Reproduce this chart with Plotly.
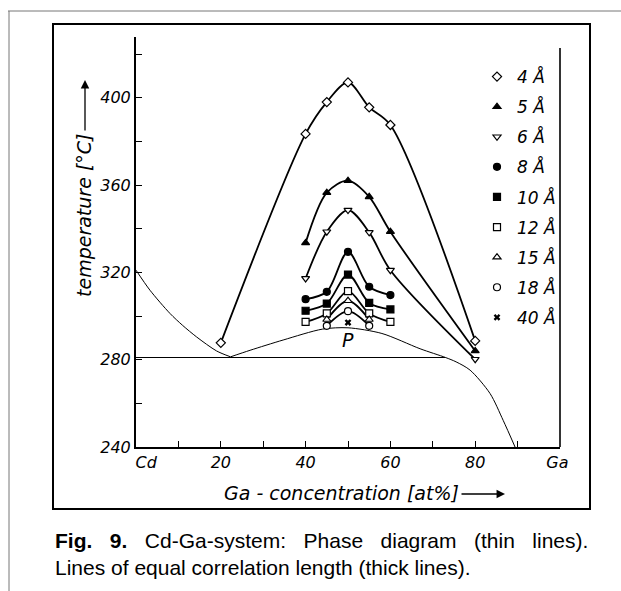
import plotly.graph_objects as go

# ---------------- data ----------------
# correlation-length series: Ga concentration [at%] and temperature [°C]
x_4A = [20, 40, 45, 50, 55, 60, 80]
t_4A = [287.7, 383.4, 398.0, 407.0, 395.6, 387.5, 288.6]
x_5A = [40, 45, 50, 55, 60, 80]
t_5A = [333.5, 356.5, 362.0, 354.6, 338.6, 284.0]
x_6A = [40, 45, 50, 55, 60, 80]
t_6A = [317.2, 338.6, 348.5, 338.3, 321.0, 280.2]
x_8A = [40, 45, 50, 55, 60]
t_8A = [307.7, 311.1, 329.4, 313.4, 309.6]
x_10A = [40, 45, 50, 55, 60]
t_10A = [302.4, 305.7, 319.0, 306.0, 303.0]
x_12A = [40, 45, 50, 55, 60]
t_12A = [297.3, 301.2, 311.4, 301.2, 297.3]
x_15A = [45, 50, 55]
t_15A = [298.4, 307.0, 298.4]
x_18A = [45, 50, 55]
t_18A = [295.5, 302.2, 295.5]
x_40A = [50]
t_40A = [297.0]

# phase diagram (thin lines)
liq_left_x = [0, 3.3, 8, 11, 14.3, 19, 22.3]
liq_left_t = [321, 311.8, 301.2, 295.7, 290.4, 284.0, 281.3]
dome_x = [22.3, 26.9, 34.7, 44, 50, 58, 67, 73, 75.5, 78.8, 83.5, 86.6, 89.4]
dome_t = [281.3, 284.3, 289.0, 294.0, 294.6, 292.0, 285.0, 281.0, 279.0, 275.2, 264.5, 252.2, 240.0]
mono_x = [0, 73]
mono_t = [281.0, 281.0]

x_tickvals = [0, 20, 40, 60, 80, 100]
x_ticktext = ["\u00a0\u00a0\u00a0\u00a0Cd", "20", "40", "60", "80", "Ga\u00a0"]
x_minor = [10, 30, 50, 70, 90]
y_tickvals = [240, 280, 320, 360, 400]
y_minor = [260, 300, 340, 380, 420]

# ---------------- layout helpers ----------------
W_PX, H_PX = 621, 591
L, R, T, B = 136, 560, 37, 447


def fx(px):
    return (px - L) / (R - L)


def fy(py):
    return (B - py) / (B - T)


FONT = "DejaVu Sans"
ital = dict(family=FONT, color="black", style="italic")

series = [
    ("4 Å", x_4A, t_4A, "diamond", "white"),
    ("5 Å", x_5A, t_5A, "triangle-up", "black"),
    ("6 Å", x_6A, t_6A, "triangle-down", "white"),
    ("8 Å", x_8A, t_8A, "circle", "black"),
    ("10 Å", x_10A, t_10A, "square", "black"),
    ("12 Å", x_12A, t_12A, "square", "white"),
    ("15 Å", x_15A, t_15A, "triangle-up", "white"),
    ("18 Å", x_18A, t_18A, "circle", "white"),
    ("40 Å", x_40A, t_40A, "x", "black"),
]

fig = go.Figure()

# thin phase-diagram lines
for xs, ts in [(liq_left_x, liq_left_t), (dome_x, dome_t)]:
    fig.add_trace(go.Scatter(x=xs, y=ts, mode="lines", showlegend=False,
                             line=dict(color="black", width=1, shape="spline", smoothing=0.8),
                             hoverinfo="skip"))
fig.add_trace(go.Scatter(x=mono_x, y=mono_t, mode="lines", showlegend=False,
                         line=dict(color="black", width=1.2), hoverinfo="skip"))

# thick lines
for name, xs, ts, sym, col in series:
    if len(xs) > 1:
        fig.add_trace(go.Scatter(x=xs, y=ts, mode="lines", showlegend=False,
                                 line=dict(color="black", width=1.8, shape="spline", smoothing=0.9),
                                 hoverinfo="skip"))

# markers (with legend)
for i, (name, xs, ts, sym, col) in enumerate(series):
    mk = dict(symbol=sym, size=7, color=col, line=dict(color="black", width=1.2))
    if sym == "x":
        mk = dict(symbol="x", size=6, color="black", line=dict(width=0))
    fig.add_trace(go.Scatter(x=xs, y=ts, mode="markers", name=name, marker=mk,
                             legendgroup=f"g{i}"))

shapes = [
    dict(type="line", xref="paper", yref="paper", x0=fx(8), x1=fx(621), y0=fy(11), y1=fy(11),
         line=dict(color="#777777", width=1)),
    dict(type="line", xref="paper", yref="paper", x0=fx(9), x1=fx(9), y0=fy(11), y1=fy(591),
         line=dict(color="#777777", width=1)),
    dict(type="rect", xref="paper", yref="paper", x0=fx(53), x1=fx(590), y0=fy(24), y1=fy(509),
         line=dict(color="black", width=2)),
    dict(type="line", xref="paper", yref="paper", x0=1, x1=1, y0=0, y1=fy(48),
         line=dict(color="black", width=1.6)),
]

NB = "\u00a0"
gap = " " + NB + NB
line1 = gap.join(["<b>Fig." + gap + "9.</b>", "Cd-Ga-system:", "Phase", "diagram",
                  "(thin", "lines)."])

annotations = [
    dict(x=50, y=289, xref="x", yref="y", text="P", showarrow=False,
         font=dict(ital, size=19)),
    dict(x=fx(84), y=fy(216), xref="paper", yref="paper", text="temperature [°C]",
         xanchor="center", yanchor="middle",
         textangle=-90, showarrow=False, font=dict(ital, size=19)),
    dict(x=fx(85), y=fy(80), xref="paper", yref="paper", text="", showarrow=True,
         ax=0, ay=52, arrowhead=2, arrowsize=1.3, arrowwidth=1.3, arrowcolor="black"),
    dict(x=fx(341), y=fy(493), xref="paper", yref="paper", text="Ga - concentration [at%]",
         xanchor="center", yanchor="middle",
         showarrow=False, font=dict(ital, size=19)),
    dict(x=fx(505), y=fy(494), xref="paper", yref="paper", text="", showarrow=True,
         ax=-45, ay=0, arrowhead=2, arrowsize=1.3, arrowwidth=1.3, arrowcolor="black"),
    dict(x=fx(53), y=fy(553.5), xref="paper", yref="paper", xanchor="left", yanchor="middle",
         align="left", showarrow=False,
         text=line1 + "<br>Lines of equal correlation length (thick lines).",
         font=dict(family="Liberation Sans, Arial", size=21, color="black")),
]

fig.update_layout(
    width=W_PX, height=H_PX,
    margin=dict(l=L, r=W_PX - R, t=T, b=H_PX - B),
    paper_bgcolor="white", plot_bgcolor="white",
    shapes=shapes, annotations=annotations,
    legend=dict(x=fx(477), y=fy(59), xanchor="left", yanchor="top",
                font=dict(ital, size=17), tracegroupgap=5, traceorder="grouped",
                bgcolor="rgba(0,0,0,0)", borderwidth=0),
    xaxis=dict(range=[0, 100], tickvals=x_tickvals, ticktext=x_ticktext,
               ticks="inside", ticklen=6, tickwidth=1.2, tickcolor="black",
               showline=True, linewidth=2, linecolor="black",
               showgrid=False, zeroline=False, tickfont=dict(ital, size=16),
               minor=dict(tickvals=x_minor, ticks="inside", ticklen=6, tickwidth=1.2,
                          tickcolor="black", showgrid=False)),
    yaxis=dict(range=[240, 427.8], tickvals=y_tickvals,
               ticks="inside", ticklen=6, tickwidth=1.2, tickcolor="black",
               showline=True, linewidth=2, linecolor="black",
               showgrid=False, zeroline=False, tickfont=dict(ital, size=16),
               minor=dict(tickvals=y_minor, ticks="inside", ticklen=6, tickwidth=1.2,
                          tickcolor="black", showgrid=False)),
)

fig.write_html("out.html")
